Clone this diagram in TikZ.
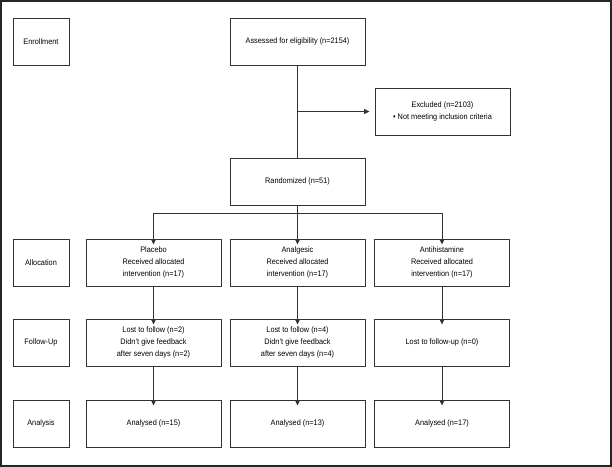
\documentclass[tikz,border=0pt]{standalone}
\usepackage{fontspec}
\setmainfont[FakeStretch=0.92]{Liberation Sans}
\usetikzlibrary{arrows.meta}
\definecolor{linec}{HTML}{333333}
\begin{document}
\begin{tikzpicture}[x=1bp,y=-1bp,
  box/.style={draw=linec,line width=0.9bp,minimum height=47bp,inner sep=0pt,align=center,
    font=\fontsize{8}{12}\selectfont,text=black},
  lab/.style={box,minimum width=56bp},
  wide/.style={box,minimum width=135bp},
  arr/.style={draw=linec,line width=0.9bp,-{Triangle[length=5.5bp,width=5bp]}},
  ln/.style={draw=linec,line width=0.9bp}]
\useasboundingbox (0,0) rectangle (612,467);
\draw[draw=black!85,line width=1.3bp] (1,1) rectangle (611,466);
% left labels
\node[lab] (enr) at (41,41.5) {Enrollment};
\node[lab] (alloc) at (41,262.5) {Allocation};
\node[lab] (fu) at (41,342.5) {Follow-Up};
\node[lab] (ana) at (41,423.5) {Analysis};
% main column
\node[wide] (assess) at (297.5,41.5) {Assessed for eligibility (n=2154)};
\node[wide] (excl) at (442.5,111.5) {Excluded (n=2103)\\[-0.5pt]\textbullet{} Not meeting inclusion criteria};
\node[wide] (rand) at (297.5,181.5) {Randomized (n=51)};
% allocation
\node[wide] (p1) at (153.5,262.5) {Placebo\\Received allocated\\intervention (n=17)};
\node[wide] (p2) at (297.5,262.5) {Analgesic\\Received allocated\\intervention (n=17)};
\node[wide] (p3) at (442,262.5) {Antihistamine\\Received allocated\\intervention (n=17)};
% follow-up
\node[wide] (f1) at (153.5,342.5) {Lost to follow (n=2)\\Didn't give feedback\\after seven days (n=2)};
\node[wide] (f2) at (297.5,342.5) {Lost to follow (n=4)\\Didn't give feedback\\after seven days (n=4)};
\node[wide] (f3) at (442,342.5) {Lost to follow-up (n=0)};
% analysis
\node[wide] (a1) at (153.5,423.5) {Analysed (n=15)};
\node[wide] (a2) at (297.5,423.5) {Analysed (n=13)};
\node[wide] (a3) at (442,423.5) {Analysed (n=17)};
% connectors
\draw[ln] (assess.south) -- (rand.north);
\coordinate (br) at (assess.south |- excl.west);
\draw[arr] (br) -- ([xshift=-5bp]excl.west);
\coordinate (split) at (297.5,213);
\draw[ln] (rand.south) -- (split);
\draw[ln] (p1.north |- split) -- (p3.north |- split);
\draw[arr] (p1.north |- split) -- ([yshift=-6bp]p1.north);
\draw[arr] (split) -- ([yshift=-6bp]p2.north);
\draw[arr] (p3.north |- split) -- ([yshift=-6bp]p3.north);
\draw[arr] (p1.south) -- ([yshift=-6bp]f1.north);
\draw[arr] (p2.south) -- ([yshift=-6bp]f2.north);
\draw[arr] (p3.south) -- ([yshift=-6bp]f3.north);
\draw[arr] (f1.south) -- ([yshift=-6bp]a1.north);
\draw[arr] (f2.south) -- ([yshift=-6bp]a2.north);
\draw[arr] (f3.south) -- ([yshift=-6bp]a3.north);
\end{tikzpicture}
\end{document}
